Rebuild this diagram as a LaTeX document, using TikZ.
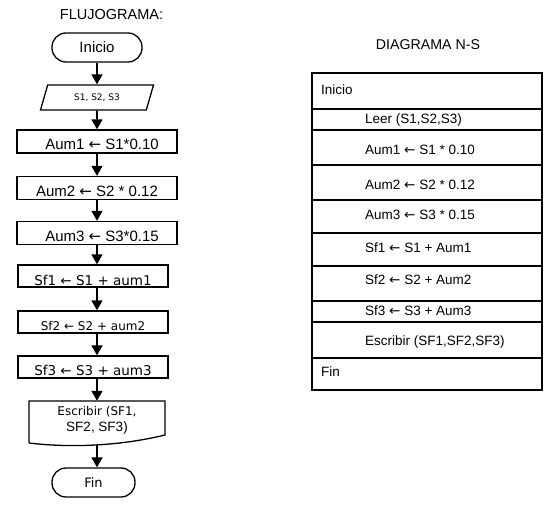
\documentclass[tikz,border=0pt]{standalone}
\usepackage{fontspec}
\setmainfont{Liberation Sans}
\newfontfamily\verdana{DejaVu Sans}
\usetikzlibrary{arrows.meta,shapes.geometric}

\newcommand{\asig}{{\verdana ←}}

\tikzset{
  caja/.style={draw, line width=1.3pt, minimum height=23pt, inner sep=0pt, text height=17pt, text depth=0pt},
  terminal/.style={draw, line width=1.3pt, rounded corners=14pt, minimum height=29pt, inner sep=0pt},
  flecha/.style={line width=1.6pt, -{Triangle[width=11pt,length=10pt]}},
  fila/.style={anchor=west, inner sep=0pt},
}

\begin{document}
\begin{tikzpicture}[x=1pt,y=1pt,font=\fontsize{13.5}{16}\selectfont]
\useasboundingbox (0,0) rectangle (549,508);
% Titulos
\node (titflujo) at (111.5,493) {\fontsize{14.5}{17}\selectfont FLUJOGRAMA:};
\node (titns) at (428,463) {\fontsize{14.2}{17}\selectfont DIAGRAMA N-S};
% Flujograma
\node[terminal, minimum width=90pt] (inicio) at (97,460.5) {\fontsize{15}{18}\selectfont Inicio};
\node[draw, line width=1.3pt, trapezium, trapezium left angle=47, trapezium right angle=133,
  trapezium stretches body, minimum width=113pt, minimum height=25pt, inner sep=0pt]
  (leer) at (97,410.5) {\verdana\fontsize{9}{11}\selectfont S1, S2, S3};
\node[caja, minimum width=160pt] (aum1) at (97,366.5) {\fontsize{15}{18}\selectfont\hspace{10pt}Aum1 \asig\ S1*0.10};
\node[caja, minimum width=160pt] (aum2) at (97,320) {\fontsize{15}{18}\selectfont Aum2 \asig\ S2 * 0.12\hspace{8pt}};
\node[caja, minimum width=160pt] (aum3) at (97,275) {\fontsize{15}{18}\selectfont\hspace{10pt}Aum3 \asig\ S3*0.15};
\node[caja, minimum width=150pt, minimum height=22pt, text height=19pt] (sf1) at (93,232) {\verdana\fontsize{13.5}{16}\selectfont Sf1 ← S1 + aum1\hspace{8pt}};
\node[caja, minimum width=150pt, minimum height=22pt] (sf2) at (93,186) {\verdana\fontsize{12}{14}\selectfont Sf2 ← S2 + aum2};
\node[caja, minimum width=150pt, minimum height=22pt] (sf3) at (93,141) {\verdana\fontsize{13.5}{16}\selectfont Sf3 ← S3 + aum3};
% Documento de salida
\node[minimum width=136pt, minimum height=38pt, align=center, inner sep=0pt] (escribir) at (97,88)
  {\verdana\fontsize{12}{15}\selectfont Escribir (SF1,\\SF2, SF3)};
\draw[line width=1.3pt] (29,65) -- (29,107) -- (165,107) -- (165,73) .. controls (120,62) and (70,60) .. (29,65);
\coordinate (escbase) at (97,63);
\node[terminal, minimum width=83pt] (fin) at (93.5,25.5) {\verdana\fontsize{13}{15}\selectfont Fin};
% Flechas
\draw[flecha] (inicio) -- (leer);
\draw[flecha] (leer) -- (aum1);
\draw[flecha] (aum1) -- (aum2);
\draw[flecha] (aum2) -- (aum3);
\draw[flecha] (aum3) -- (aum3 |- sf1.north);
\draw[flecha] (sf1.south -| inicio) -- (sf2.north -| inicio);
\draw[flecha] (sf2.south -| inicio) -- (sf3.north -| inicio);
\draw[flecha] (sf3.south -| inicio) -- (escribir.north);
\draw[flecha] (escbase) -- (fin.north -| escbase);
% Diagrama N-S
\draw[line width=1.3pt] (312,118) rectangle (542,435);
\foreach \y in {399,378,343,308,275,242,207,186,150}
  \draw[line width=1.3pt] (312,\y) -- (542,\y);
\node[fila] (nsinicio) at (321,418) {Inicio};
\foreach \y/\t [count=\i] in {388/{Leer (S1,S2,S3)}, 358/{Aum1 \asig\ S1 * 0.10}, 323/{Aum2 \asig\ S2 * 0.12},
  293/{Aum3 \asig\ S3 * 0.15}, 260/{Sf1 \asig\ S1 + Aum1}, 228/{Sf2 \asig\ S2 + Aum2}, 197/{Sf3 \asig\ S3 + Aum3},
  166/{Escribir (SF1,SF2,SF3)}}
  \node[fila] (ns\i) at (365,\y) {\t};
\node[fila] (nsfin) at (321,136) {Fin};
\end{tikzpicture}
\end{document}
